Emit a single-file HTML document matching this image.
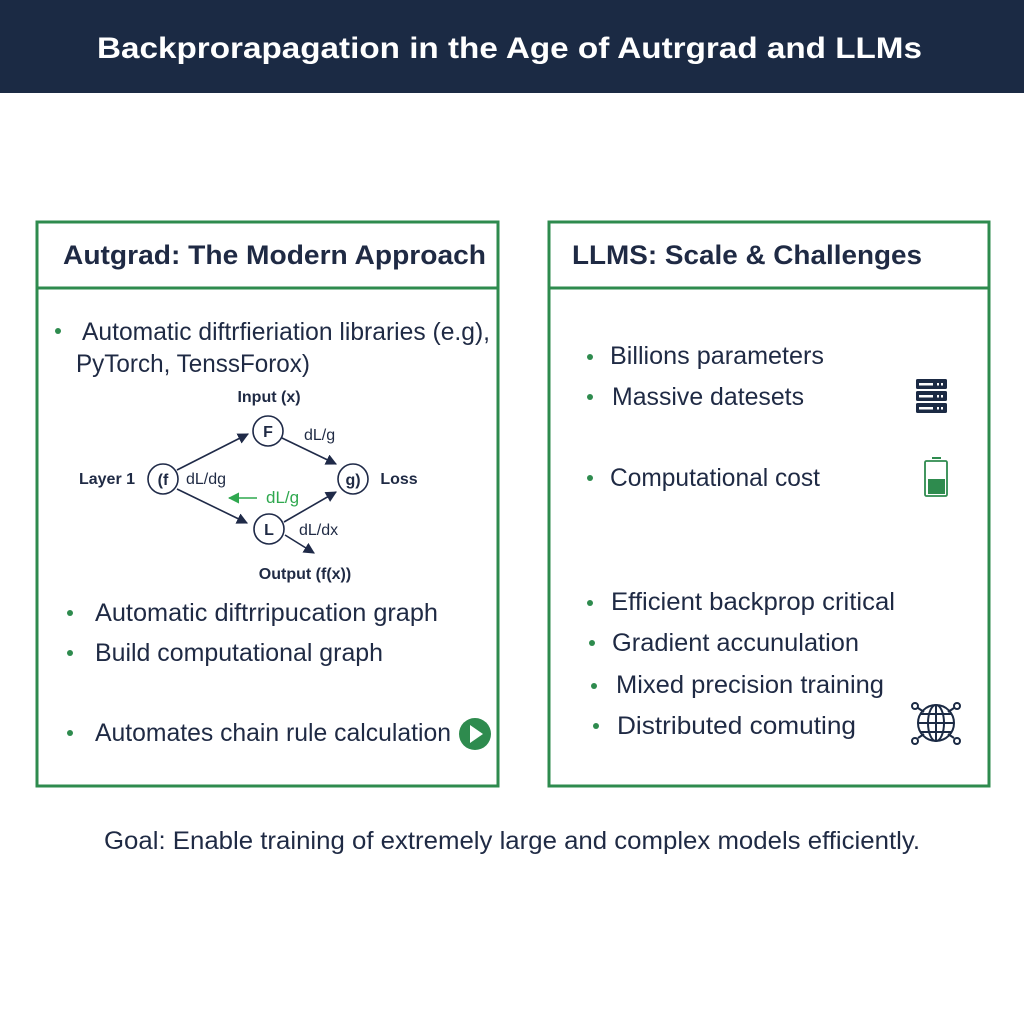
<!DOCTYPE html>
<html><head><style>body{margin:0;background:#fff}svg{display:block}</style></head><body>
<svg width="1024" height="1024" viewBox="0 0 1024 1024" font-family="Liberation Sans, sans-serif">
<defs><marker id="a" viewBox="0 0 10 10" refX="9" refY="5" markerWidth="7" markerHeight="7" orient="auto"><path d="M0,0L10,5L0,10z" fill="#1f2a48"/></marker>
<marker id="g" viewBox="0 0 10 10" refX="9" refY="5" markerWidth="7" markerHeight="7" orient="auto"><path d="M0,0L10,5L0,10z" fill="#2fa84f"/></marker></defs>
<rect width="1024" height="93" fill="#1b2a44"/>
<text x="97" y="58" fill="#fff" font-size="30" font-weight="bold" textLength="825" lengthAdjust="spacingAndGlyphs">Backprorapagation in the Age of Autrgrad and LLMs</text>
<g fill="none" stroke="#2e8b4e" stroke-width="3">
<rect x="37" y="222" width="461" height="564"/><line x1="37" y1="288" x2="498" y2="288"/>
<rect x="549" y="222" width="440" height="564"/><line x1="549" y1="288" x2="989" y2="288"/></g>
<g fill="#1f2a44" font-size="27" font-weight="bold"><text x="63" y="264" textLength="423" lengthAdjust="spacingAndGlyphs">Autgrad: The Modern Approach</text><text x="572" y="264" textLength="350" lengthAdjust="spacingAndGlyphs">LLMS: Scale &amp; Challenges</text></g>
<g fill="#1f2a44" font-size="25">
<text x="82" y="340" textLength="408" lengthAdjust="spacingAndGlyphs">Automatic diftrfieriation libraries (e.g),</text><text x="76" y="372" textLength="234" lengthAdjust="spacingAndGlyphs">PyTorch, TenssForox)</text>
<text x="95" y="621" textLength="343" lengthAdjust="spacingAndGlyphs">Automatic diftrripucation graph</text><text x="95" y="661" textLength="288" lengthAdjust="spacingAndGlyphs">Build computational graph</text>
<text x="95" y="741" textLength="356" lengthAdjust="spacingAndGlyphs">Automates chain rule calculation</text>
<text x="610" y="364" textLength="214" lengthAdjust="spacingAndGlyphs">Billions parameters</text><text x="612" y="405" textLength="192" lengthAdjust="spacingAndGlyphs">Massive datesets</text><text x="610" y="486" textLength="210" lengthAdjust="spacingAndGlyphs">Computational cost</text>
<text x="611" y="610" textLength="284" lengthAdjust="spacingAndGlyphs">Efficient backprop critical</text><text x="612" y="651" textLength="247" lengthAdjust="spacingAndGlyphs">Gradient accunulation</text><text x="616" y="693" textLength="268" lengthAdjust="spacingAndGlyphs">Mixed precision training</text><text x="617" y="734" textLength="239" lengthAdjust="spacingAndGlyphs">Distributed comuting</text>
<text x="104" y="849" textLength="816" lengthAdjust="spacingAndGlyphs">Goal: Enable training of extremely large and complex models efficiently.</text>
</g>
<g fill="#2e8b4e"><circle cx="58" cy="331" r="3"/><circle cx="70" cy="613" r="3"/><circle cx="70" cy="653" r="3"/><circle cx="70" cy="733" r="3"/>
<circle cx="590" cy="357" r="3"/><circle cx="590" cy="397" r="3"/><circle cx="590" cy="478" r="3"/><circle cx="590" cy="603" r="3"/><circle cx="592" cy="643" r="3"/><circle cx="594" cy="686" r="3"/><circle cx="596" cy="726" r="3"/>
<circle cx="475" cy="734" r="16"/></g>
<path d="M470,725L483,734L470,743z" fill="#fff"/>
<g stroke="#1f2a48" stroke-width="1.6" fill="none">
<circle cx="163" cy="479" r="15"/><circle cx="268" cy="431" r="15"/><circle cx="353" cy="479" r="15"/><circle cx="269" cy="529" r="15"/>
<line x1="177" y1="470" x2="248" y2="434" marker-end="url(#a)"/><line x1="282" y1="438" x2="336" y2="464" marker-end="url(#a)"/>
<line x1="177" y1="489" x2="247" y2="523" marker-end="url(#a)"/><line x1="284" y1="522" x2="336" y2="492" marker-end="url(#a)"/>
<line x1="285" y1="535" x2="314" y2="553" marker-end="url(#a)"/></g>
<line x1="257" y1="498" x2="229" y2="498" stroke="#2fa84f" stroke-width="1.6" marker-end="url(#g)"/>
<g fill="#1f2a44" font-size="16" font-weight="bold" text-anchor="middle">
<text x="269" y="402">Input (x)</text><text x="268" y="437">F</text><text x="163" y="485">(f</text><text x="353" y="485">g)</text><text x="269" y="535">L</text>
<text x="107" y="484">Layer 1</text><text x="399" y="484">Loss</text><text x="305" y="579">Output (f(x))</text></g>
<g fill="#1f2a44" font-size="16"><text x="304" y="440">dL/g</text><text x="186" y="484">dL/dg</text><text x="299" y="535">dL/dx</text></g>
<text x="266" y="503" fill="#2fa84f" font-size="17">dL/g</text>
<g fill="#1b2a44"><rect x="916" y="379" width="31" height="10" rx="1.5"/><rect x="916" y="391" width="31" height="10" rx="1.5"/><rect x="916" y="403" width="31" height="10" rx="1.5"/></g>
<g fill="#fff"><rect x="919" y="383" width="14" height="2.5"/><rect x="919" y="395" width="14" height="2.5"/><rect x="919" y="407" width="14" height="2.5"/>
<rect x="937" y="383" width="2" height="2.5"/><rect x="941" y="383" width="2" height="2.5"/><rect x="937" y="395" width="2" height="2.5"/><rect x="941" y="395" width="2" height="2.5"/><rect x="937" y="407" width="2" height="2.5"/><rect x="941" y="407" width="2" height="2.5"/></g>
<rect x="925" y="461" width="22" height="35" rx="1.5" fill="none" stroke="#2e8b4e" stroke-width="1.8"/><rect x="932" y="457" width="9" height="2" fill="#2e8b4e"/><rect x="928" y="479" width="17" height="15" fill="#2e8b4e"/>
<g stroke="#1b2a44" stroke-width="2" fill="none"><circle cx="936" cy="723" r="18"/><ellipse cx="936" cy="723" rx="8" ry="18"/><line x1="918" y1="723" x2="954" y2="723"/><line x1="936" y1="705" x2="936" y2="741"/><line x1="921" y1="714" x2="951" y2="714"/><line x1="921" y1="732" x2="951" y2="732"/>
<line x1="918" y1="708" x2="924" y2="712"/><line x1="954" y1="708" x2="948" y2="712"/><line x1="918" y1="738" x2="924" y2="734"/><line x1="954" y1="738" x2="948" y2="734"/>
<circle cx="915" cy="706" r="3"/><circle cx="957" cy="706" r="3"/><circle cx="915" cy="741" r="3"/><circle cx="957" cy="741" r="3"/></g>
</svg>
</body></html>
